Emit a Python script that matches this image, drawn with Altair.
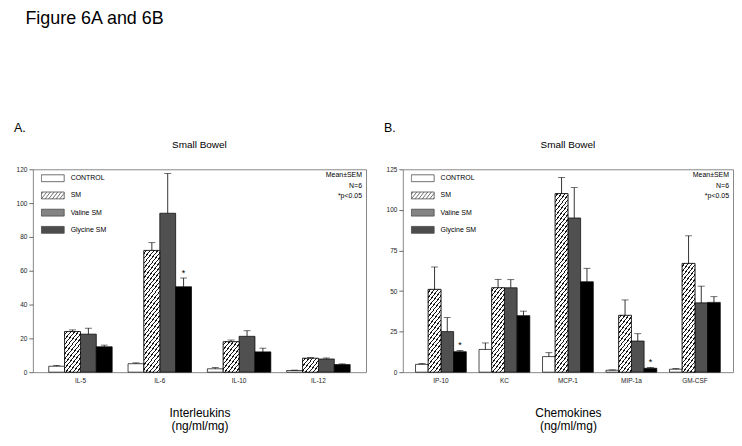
import math
import altair as alt
import pandas as pd

# ---------------- data ----------------
groups = ["CONTROL", "SM", "Valine SM", "Glycine SM"]

il_cats = ["IL-5", "IL-6", "IL-10", "IL-12"]
il_control = [3.5, 5.0, 2.0, 1.0]
il_control_sem = [0.5, 0.5, 0.7, 0.2]
il_sm = [24.0, 72.0, 18.0, 8.2]
il_sm_sem = [1.0, 4.6, 1.0, 0.4]
il_valine = [22.5, 94.0, 21.2, 7.8]
il_valine_sem = [3.5, 23.5, 3.3, 0.6]
il_glycine = [15.0, 50.5, 12.0, 4.5]
il_glycine_sem = [1.0, 5.2, 2.2, 0.4]
il_star = ["IL-6"]

ck_cats = ["IP-10", "KC", "MCP-1", "MIP-1a", "GM-CSF"]
ck_control = [4.8, 14.0, 9.6, 1.2, 1.8]
ck_control_sem = [0.6, 4.0, 2.4, 0.2, 0.4]
ck_sm = [51.0, 52.0, 110.0, 35.0, 67.0]
ck_sm_sem = [13.8, 5.2, 10.0, 9.5, 17.0]
ck_valine = [25.0, 52.0, 95.0, 19.2, 42.7]
ck_valine_sem = [8.6, 5.0, 18.7, 4.5, 10.3]
ck_glycine = [12.6, 34.8, 55.7, 2.4, 43.0]
ck_glycine_sem = [0.8, 2.8, 8.3, 0.5, 3.5]
ck_star = ["IP-10", "MIP-1a"]

ann_lines = ["Mean\u00b1SEM", "N=6", "*p<0.05"]
fig_title = "Figure 6A and 6B"
panel_sub = "Small Bowel"

# ---------------- layout / style ----------------
H = 204
A_W = 335
B_W = 332
PAD_IN = 0.2
PAD_OUT = 0.2
FONT = "Liberation Sans"
VALINE_COL = "#505050"


def build_df(cats, series, sems, star_cats):
    rows = []
    for gi, g in enumerate(groups):
        for ci, c in enumerate(cats):
            m = series[gi][ci]
            rows.append({
                "cat": c, "group": g, "mean": m,
                "top": m + sems[gi][ci],
                "star": (g == "Glycine SM" and c in star_cats),
            })
    return pd.DataFrame(rows)


df_il = build_df(il_cats, [il_control, il_sm, il_valine, il_glycine],
                 [il_control_sem, il_sm_sem, il_valine_sem, il_glycine_sem], il_star)
df_ck = build_df(ck_cats, [ck_control, ck_sm, ck_valine, ck_glycine],
                 [ck_control_sem, ck_sm_sem, ck_valine_sem, ck_glycine_sem], ck_star)


def hatch_fill(w, h, spacing=3.8, angle=52.0, lw=0.95):
    """Diagonal '/' hatch as a hard-stop linear gradient in bounding-box units."""
    th = math.radians(angle)
    s, c = math.sin(th), math.cos(th)
    D = w * s + h * c
    k = D / (w * w * s * s + h * h * c * c)
    gx, gy = w * s * k, h * c * k
    per = spacing * s
    stops = [{"offset": 0, "color": "white"}]
    t = per * 0.5
    while t < D:
        a = round(t / D, 5)
        b = round(min((t + lw) / D, 1.0), 5)
        stops += [{"offset": a, "color": "white"}, {"offset": a, "color": "#1a1a1a"},
                  {"offset": b, "color": "#1a1a1a"}, {"offset": b, "color": "white"}]
        t += per
    stops.append({"offset": 1, "color": "white"})
    return {"gradient": "linear", "x1": 0, "y1": 0, "x2": gx, "y2": gy, "stops": stops}


def hatch_symbol(half_h=0.3, spacing=0.32, angle=52.0):
    dx = 2 * half_h / math.tan(math.radians(angle))
    parts = ["M-1,%.3fH1V%.3fH-1Z" % (-half_h, half_h)]
    x0 = -1 - dx + spacing * 0.5
    while x0 < 1:
        xa, ya = x0, half_h
        xb, yb = x0 + dx, -half_h
        if xa < -1:
            f = (-1 - xa) / dx
            xa, ya = -1, half_h - f * 2 * half_h
        if xb > 1:
            f = (1 - x0) / dx
            xb, yb = 1, half_h - f * 2 * half_h
        parts.append("M%.3f,%.3fL%.3f,%.3f" % (xa, ya, xb, yb))
        x0 += spacing
    return "".join(parts)


RECT = "M-1,-0.3H1V0.3H-1Z"
HATCH = hatch_symbol()


def panel(df, cats, ymax, ystep, width, letter, xtitle):
    n = len(cats)
    step = width / (n - PAD_IN + 2 * PAD_OUT)
    barw = step * (1 - PAD_IN) / len(groups)

    x = alt.X("cat:N", sort=cats,
              scale=alt.Scale(domain=cats, paddingInner=PAD_IN, paddingOuter=PAD_OUT),
              axis=alt.Axis(title=xtitle, labelAngle=0, ticks=False, domain=False,
                            labelFontSize=6.5, labelColor="#222", labelPadding=5,
                            titleFont=FONT, titleFontSize=12, titleFontWeight="normal",
                            titleColor="black", titlePadding=24, titleLineHeight=13.5))
    xo = alt.XOffset("group:N", sort=groups,
                     scale=alt.Scale(domain=groups, paddingInner=0, paddingOuter=0))
    yscale = alt.Scale(domain=[0, ymax], nice=False, zero=True)
    yaxis = alt.Axis(title=None, values=list(range(0, ymax + 1, ystep)), grid=False,
                     domain=False, tickSize=4, tickColor="#444", tickWidth=0.8,
                     labelFontSize=6.5, labelColor="#222", labelPadding=2,
                     minExtent=19, maxExtent=19)
    y_mean = alt.Y("mean:Q", scale=yscale, axis=yaxis)
    y_top = alt.Y("top:Q", scale=yscale, axis=yaxis)

    fill_scale = alt.Scale(domain=groups, range=["white", "white", VALINE_COL, "black"])
    shape_scale = alt.Scale(domain=groups, range=[RECT, HATCH, RECT, RECT])
    leg = alt.Legend(title=None, orient="none", legendX=8, legendY=2, symbolSize=529,
                     clipHeight=14, rowPadding=3.3, labelFontSize=7, labelOffset=6,
                     labelColor="black", labelFont=FONT, symbolStrokeColor="black",
                     symbolStrokeWidth=0.8, padding=0)

    base = alt.Chart(df)
    bars = base.mark_bar(stroke="black", strokeWidth=0.7).encode(
        x=x, xOffset=xo, y=y_mean,
        fill=alt.Fill("group:N", scale=fill_scale, legend=leg))

    hatch_layers = []
    for _, r in df[df["group"] == "SM"].iterrows():
        h = r["mean"] / ymax * H
        hatch_layers.append(
            alt.Chart(df).transform_filter(
                (alt.datum.cat == r["cat"]) & (alt.datum.group == "SM")
            ).mark_bar(fill=hatch_fill(barw, h), stroke="black", strokeWidth=0.7).encode(
                x=x, xOffset=xo, y=y_mean))

    err = base.mark_rule(color="black", strokeWidth=0.8).encode(
        x=x, xOffset=xo, y=y_mean, y2="top:Q")
    cap = base.mark_tick(color="black", thickness=0.8, size=7, orient="horizontal").encode(
        x=x, xOffset=xo, y=y_top)
    star = base.transform_filter(alt.datum.star == True).mark_text(
        text="*", fontSize=9, dy=-5, baseline="middle", color="black").encode(
        x=x, xOffset=xo, y=y_top)

    ann = alt.Chart(pd.DataFrame({"t": ["\n".join(ann_lines)]})).mark_text(
        align="right", baseline="top", fontSize=7, lineBreak="\n", lineHeight=10.4,
        color="black").encode(text="t:N", x=alt.value(width - 4), y=alt.value(2))
    let = alt.Chart(pd.DataFrame({"t": [letter]})).mark_text(
        align="left", baseline="middle", fontSize=12.5, color="black").encode(
        text="t:N", x=alt.value(-19), y=alt.value(-41))
    sub = alt.Chart(pd.DataFrame({"t": [panel_sub]})).mark_text(
        align="center", baseline="middle", fontSize=10, color="black").encode(
        text="t:N", x=alt.value(width / 2), y=alt.value(-24))

    leg_pts = base.transform_filter("false").mark_point(filled=True, size=10).encode(
        fill=alt.Fill("group:N", scale=fill_scale, legend=leg),
        shape=alt.Shape("group:N", scale=shape_scale, legend=leg))

    return alt.layer(bars, *hatch_layers, err, cap, star, ann, let, sub, leg_pts).properties(
        width=width, height=H)


pA = panel(df_il, il_cats, 120, 20, A_W, "A.", ["Interleukins", "(ng/ml/mg)"])
pB = panel(df_ck, ck_cats, 125, 25, B_W, "B.", ["Chemokines", "(ng/ml/mg)"])

chart = alt.hconcat(pA, pB, spacing=16).resolve_scale(
    x="independent", y="independent", xOffset="independent",
    fill="independent", shape="independent"
).resolve_legend(fill="independent", shape="independent").properties(
    title=alt.TitleParams(fig_title, anchor="start", fontSize=18, fontWeight="normal",
                          font=FONT, offset=95, dx=12, color="black", baseline="top",
                          frame="bounds"),
    padding={"left": 5, "top": 0, "right": 0, "bottom": 0},
).configure(font=FONT).configure_view(stroke="#888", strokeWidth=1)

chart.save("out.html", embed_options={"renderer": "svg", "actions": False})
